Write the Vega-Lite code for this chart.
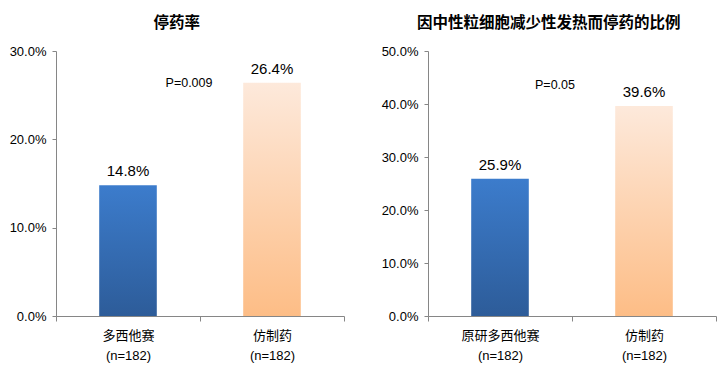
{
  "$schema": "https://vega.github.io/schema/vega-lite/v6.json",
  "background": "white",
  "padding": {"left": 9, "top": 15, "right": 5, "bottom": 3},
  "datasets": {
    "left": [
      {"cat": "多西他赛", "grp": "ref", "value": 0.148},
      {"cat": "仿制药", "grp": "gen", "value": 0.264}
    ],
    "leftP": [{"cat": "多西他赛", "value": 0.264, "p": "P=0.009"}],
    "right": [
      {"cat": "原研多西他赛", "grp": "ref", "value": 0.259},
      {"cat": "仿制药", "grp": "gen", "value": 0.396}
    ],
    "rightP": [{"cat": "原研多西他赛", "value": 0.436, "p": "P=0.05"}]
  },
  "config": {
    "font": "Liberation Sans, Noto Sans CJK SC",
    "view": {"stroke": null},
    "title": {"fontSize": 15.5, "fontWeight": "bold", "font": "Noto Sans CJK SC", "color": "#000", "offset": 14, "anchor": "middle", "frame": "bounds"},
    "axis": {
      "domainColor": "#868686",
      "tickColor": "#868686",
      "labelColor": "#000",
      "labelFontSize": 13,
      "labelFont": "Liberation Sans, Noto Sans CJK SC",
      "grid": false,
      "title": null
    }
  },
  "hconcat": [
    {
      "width": 288,
      "height": 265,
      "title": "停药率",
      "data": {"name": "left"},
      "encoding": {
        "x": {
          "field": "cat", "type": "nominal", "sort": ["多西他赛", "仿制药"],
          "scale": {"paddingInner": 0, "paddingOuter": 0},
          "axis": {"labelAngle": 0, "tickBand": "extent", "tickSize": 5, "labelPadding": 8, "labelLineHeight": 20, "labelExpr": "datum.value ? [datum.value, '(n=182)'] : ''"}
        },
        "y": {
          "field": "value", "type": "quantitative",
          "scale": {"domain": [0, 0.3]},
          "axis": {"values": [0, 0.1, 0.2, 0.3], "format": ".1%", "tickSize": 4, "labelPadding": 6}
        }
      },
      "layer": [
        {
          "transform": [{"filter": "datum.grp === 'ref'"}],
          "mark": {"type": "bar", "width": {"band": 0.4},
            "color": {"gradient": "linear", "x1": 0, "y1": 0, "x2": 0, "y2": 1,
              "stops": [{"offset": 0, "color": "#3C7CCC"}, {"offset": 1, "color": "#2D5C99"}]}}
        },
        {
          "transform": [{"filter": "datum.grp === 'gen'"}],
          "mark": {"type": "bar", "width": {"band": 0.4},
            "color": {"gradient": "linear", "x1": 0, "y1": 0, "x2": 0, "y2": 1,
              "stops": [{"offset": 0, "color": "#FDE9DB"}, {"offset": 1, "color": "#FDBD86"}]}}
        },
        {
          "mark": {"type": "text", "baseline": "bottom", "dy": -6, "fontSize": 15, "color": "#000"},
          "encoding": {"text": {"field": "value", "type": "quantitative", "format": ".1%"}}
        },
        {
          "data": {"name": "leftP"},
          "mark": {"type": "text", "align": "center", "baseline": "middle", "dx": -11, "fontSize": 12.5, "color": "#000"},
          "encoding": {
            "x": {"field": "cat", "type": "nominal", "bandPosition": 1},
            "y": {"field": "value", "type": "quantitative"},
            "text": {"field": "p"}
          }
        }
      ]
    },
    {
      "width": 288,
      "height": 265,
      "title": "因中性粒细胞减少性发热而停药的比例",
      "data": {"name": "right"},
      "encoding": {
        "x": {
          "field": "cat", "type": "nominal", "sort": ["原研多西他赛", "仿制药"],
          "scale": {"paddingInner": 0, "paddingOuter": 0},
          "axis": {"labelAngle": 0, "tickBand": "extent", "tickSize": 5, "labelPadding": 8, "labelLineHeight": 20, "labelExpr": "datum.value ? [datum.value, '(n=182)'] : ''"}
        },
        "y": {
          "field": "value", "type": "quantitative",
          "scale": {"domain": [0, 0.5]},
          "axis": {"values": [0, 0.1, 0.2, 0.3, 0.4, 0.5], "format": ".1%", "tickSize": 4, "labelPadding": 6}
        }
      },
      "layer": [
        {
          "transform": [{"filter": "datum.grp === 'ref'"}],
          "mark": {"type": "bar", "width": {"band": 0.4},
            "color": {"gradient": "linear", "x1": 0, "y1": 0, "x2": 0, "y2": 1,
              "stops": [{"offset": 0, "color": "#3C7CCC"}, {"offset": 1, "color": "#2D5C99"}]}}
        },
        {
          "transform": [{"filter": "datum.grp === 'gen'"}],
          "mark": {"type": "bar", "width": {"band": 0.4},
            "color": {"gradient": "linear", "x1": 0, "y1": 0, "x2": 0, "y2": 1,
              "stops": [{"offset": 0, "color": "#FDE9DB"}, {"offset": 1, "color": "#FDBD86"}]}}
        },
        {
          "mark": {"type": "text", "baseline": "bottom", "dy": -6, "fontSize": 15, "color": "#000"},
          "encoding": {"text": {"field": "value", "type": "quantitative", "format": ".1%"}}
        },
        {
          "data": {"name": "rightP"},
          "mark": {"type": "text", "align": "center", "baseline": "middle", "dx": -17, "fontSize": 12.5, "color": "#000"},
          "encoding": {
            "x": {"field": "cat", "type": "nominal", "bandPosition": 1},
            "y": {"field": "value", "type": "quantitative"},
            "text": {"field": "p"}
          }
        }
      ]
    }
  ],
  "spacing": 36
}
